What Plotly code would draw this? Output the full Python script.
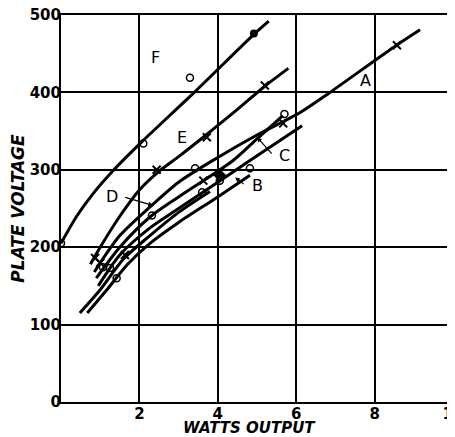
import plotly.graph_objects as go

# Curve data (watts output, plate voltage)
F_x = [0.0, 0.4, 0.8, 1.35, 2.1, 3.4, 4.9, 5.3]
F_y = [205, 240, 268, 300, 338, 400, 474, 492]

E_x = [0.75, 1.0, 1.5, 2.0, 2.5, 3.0, 3.7, 4.5, 5.2, 5.8]
E_y = [178, 200, 240, 274, 298, 317, 345, 378, 408, 431]

A_x = [0.85, 1.5, 2.27, 3.0, 4.0, 5.0, 6.1, 6.86, 8.56, 9.16]
A_y = [168, 215, 252, 284, 316, 345, 374, 400, 461, 481]

C_x = [0.9, 1.5, 2.27, 3.0, 4.39, 5.0, 5.66]
C_y = [160, 200, 239, 265, 312, 340, 370]

D_x = [0.95, 1.5, 2.27, 3.0, 4.0, 4.82, 6.15]
D_y = [150, 190, 225, 250, 284, 312, 357]

B_x = [0.67, 1.17, 1.7, 2.27, 3.0, 4.0, 4.82]
B_y = [115, 145, 178, 205, 232, 265, 293]

G_x = [0.48, 1.0, 1.6, 2.27, 3.0, 3.8]
G_y = [115, 145, 185, 215, 245, 272]

# Plotted observations
circ_x = [0.0, 2.1, 3.29, 5.7, 3.42, 4.82, 3.6, 4.05, 2.32, 1.07, 1.25, 1.42]
circ_y = [205, 334, 419, 372, 302, 302, 271, 286, 241, 174, 173, 160]
dot_x = [4.92]
dot_y = [476]
solid_x = [4.05]
solid_y = [293]
cross_x = [0.87, 1.63, 2.44, 3.72, 5.2, 5.67, 8.57, 3.63, 1.0]
cross_y = [186, 190, 300, 342, 409, 360, 461, 286, 180]

labels = ["F", "E", "A", "C", "B", "D"]
label_x = [2.4, 3.09, 7.76, 5.71, 5.0, 1.3]
label_y = [445, 342, 415, 319, 280, 265]
# leader targets (None = no leader)
lead_x = [None, None, None, 5.0, 4.44, 2.35]
lead_y = [None, None, None, 342, 290, 254]

x_ticks = [2, 4, 6, 8, 10]
y_ticks = [0, 100, 200, 300, 400, 500]
x_title = "WATTS OUTPUT"
y_title = "PLATE VOLTAGE"

fig = go.Figure()
for xs, ys in [(F_x, F_y), (E_x, E_y), (A_x, A_y), (C_x, C_y), (D_x, D_y), (B_x, B_y), (G_x, G_y)]:
    fig.add_trace(go.Scatter(x=xs, y=ys, mode="lines",
                             line=dict(color="black", width=3, shape="spline", smoothing=0.8),
                             hoverinfo="skip", showlegend=False))

fig.add_trace(go.Scatter(x=circ_x, y=circ_y, mode="markers",
                         marker=dict(symbol="circle-open", size=7, color="black", line=dict(width=1.5)),
                         showlegend=False))
fig.add_trace(go.Scatter(x=dot_x, y=dot_y, mode="markers",
                         marker=dict(symbol="circle", size=8, color="black"),
                         showlegend=False))
fig.add_trace(go.Scatter(x=solid_x, y=solid_y, mode="markers",
                         marker=dict(symbol="diamond", size=10, color="black"),
                         showlegend=False))
fig.add_trace(go.Scatter(x=cross_x, y=cross_y, mode="markers",
                         marker=dict(symbol="x-thin-open", size=8, color="black", line=dict(width=2)),
                         showlegend=False))

for t, lx, ly, tx, ty in zip(labels, label_x, label_y, lead_x, lead_y):
    fig.add_annotation(x=lx, y=ly, text=t, showarrow=False,
                       font=dict(family="DejaVu Sans", size=16, color="black"))
    if tx is not None:
        fig.add_annotation(x=tx, y=ty, ax=lx + (0.3 if tx > lx else -0.3),
                           ay=ly, axref="x", ayref="y", xref="x", yref="y",
                           text="", showarrow=True, arrowhead=2, arrowsize=0.8,
                           arrowwidth=1.2, arrowcolor="black")

# x-axis title placed below tick labels
fig.add_annotation(x=0.48, y=-0.067, xref="paper", yref="paper",
                   text=f"<b><i>{x_title}</i></b>", showarrow=False,
                   xanchor="center", yanchor="middle",
                   font=dict(family="DejaVu Sans", size=15, color="black"))

fig.update_layout(
    width=447, height=429,
    margin=dict(l=53, r=2, t=7, b=35, autoexpand=False),
    paper_bgcolor="white", plot_bgcolor="white",
    font=dict(family="DejaVu Sans", color="black"),
)
fig.update_xaxes(range=[0, 10], tickvals=x_ticks, ticktext=[f"<b>{v}</b>" for v in x_ticks],
                 showgrid=True, gridcolor="black", gridwidth=1.5, zeroline=False,
                 showline=True, linecolor="black", linewidth=2, mirror=True,
                 ticks="", tickfont=dict(size=15), ticklabeloverflow="allow",
                 ticklabelstandoff=-3, automargin=False)
fig.update_yaxes(range=[0, 500], tickvals=y_ticks, ticktext=[f"<b>{v}</b>" for v in y_ticks],
                 showgrid=True, gridcolor="black", gridwidth=1.5, zeroline=False,
                 showline=True, linecolor="black", linewidth=2, mirror=True,
                 ticks="", tickfont=dict(size=15), ticklabeloverflow="allow",
                 ticklabelstandoff=-5, automargin=False,
                 title=dict(text=f"<b><i>{y_title}</i></b>", font=dict(size=17), standoff=2))

fig.write_html("out.html")
